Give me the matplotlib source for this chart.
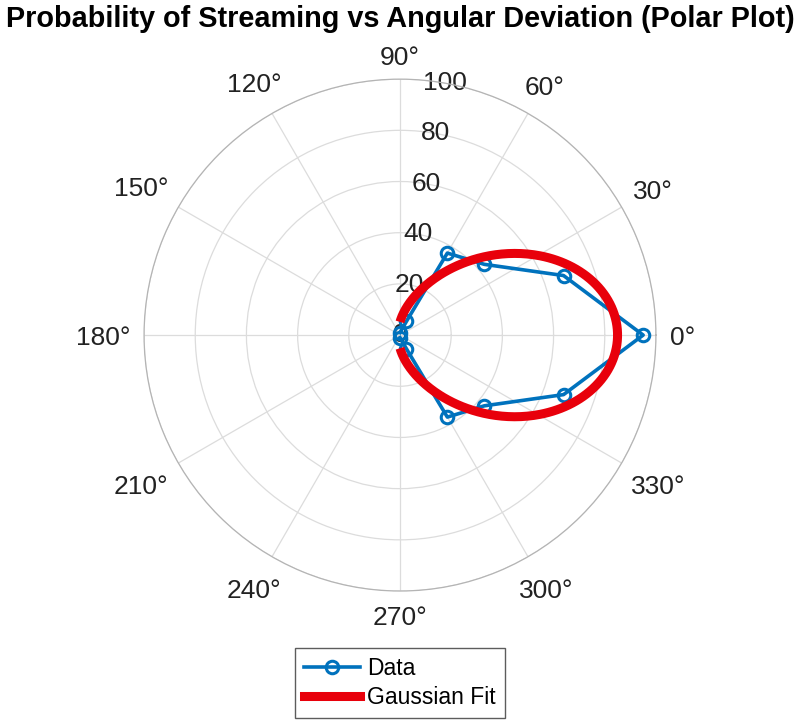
import numpy as np
import matplotlib
matplotlib.use("Agg")
import matplotlib.pyplot as plt
from matplotlib.lines import Line2D

plt.rcParams["font.family"] = ["Liberation Sans", "DejaVu Sans"]

# measured data (deg, %)
angles_deg = [-90, -65, -60, -40, -20, 0, 20, 40, 60, 65, 90]
prob_pct   = [1, 6, 37, 43, 68, 95, 68, 43, 37, 6, 1]

# gaussian fit parameters
fit_amp, fit_mu, fit_sigma = 85.0, 0.0, 38.0

r_ticks     = [0, 20, 40, 60, 80, 100]
theta_ticks = list(range(0, 360, 30))

BLUE, RED = "#0072BD", "#E8000B"

fig = plt.figure(figsize=(8, 7.22), dpi=100)
ax = fig.add_axes([0.18, 0.1814, 0.64, 0.709], polar=True)

th = np.radians(angles_deg)
ax.plot(th, prob_pct, "-o", color=BLUE, lw=2.6, ms=9, mfc="none", mew=2.2,
        label="Data", zorder=3)

fit_th = np.linspace(-90, 90, 361)
fit_r = fit_amp * np.exp(-(fit_th - fit_mu) ** 2 / (2 * fit_sigma ** 2))
ax.plot(np.radians(fit_th), fit_r, color=RED, lw=6.5, label="Gaussian Fit",
        zorder=4, solid_capstyle="butt")

ax.set_ylim(0, 100)
ax.set_yticks(r_ticks)
ax.set_yticklabels([])
ax.set_thetagrids(theta_ticks, [""] * len(theta_ticks))
ax.grid(True, color="#dcdcdc", lw=0.9)
ax.spines["polar"].set_color("#b4b4b4")
ax.spines["polar"].set_linewidth(0.9)

for r in r_ticks:
    ax.text(np.radians(80), r, f"{r}", ha="center", va="center", fontsize=19,
            color="#222222", zorder=2)

# angle labels: keep a constant gap between the label box and the outer circle
labels = []
for t in theta_ticks:
    a = ax.annotate(f"{t}°", xy=(np.radians(t), 100), xytext=(0, 0),
                    textcoords="offset pixels", ha="center", va="center",
                    fontsize=19, color="#222222", annotation_clip=False)
    labels.append((t, a))
fig.canvas.draw()
gap = 14
for t, a in labels:
    bb = a.get_window_extent()
    c, s = np.cos(np.radians(t)), np.sin(np.radians(t))
    d = gap + abs(c) * bb.width / 2 + abs(s) * 20 / 2
    a.xyann = (d * c, d * s - 3)

fig.suptitle("Probability of Streaming vs Angular Deviation (Polar Plot)",
             fontsize=20.8, fontweight="bold", y=0.993, va="top")

handles = [Line2D([], [], color=BLUE, lw=2.6, marker="o", ms=9, mfc="none", mew=2.2),
           Line2D([], [], color=RED, lw=6.5)]
leg = fig.legend(handles, ["Data", "Gaussian Fit"], loc="center",
                 bbox_to_anchor=(0.5, 1 - 683 / 722), fontsize=16.5, frameon=True,
                 fancybox=False, edgecolor="#333333", handlelength=2.45,
                 borderpad=0.38, borderaxespad=0, labelspacing=0.25,
                 handletextpad=0.3)
leg.get_frame().set_linewidth(1.0)

fig.savefig("out.png", dpi=100)
